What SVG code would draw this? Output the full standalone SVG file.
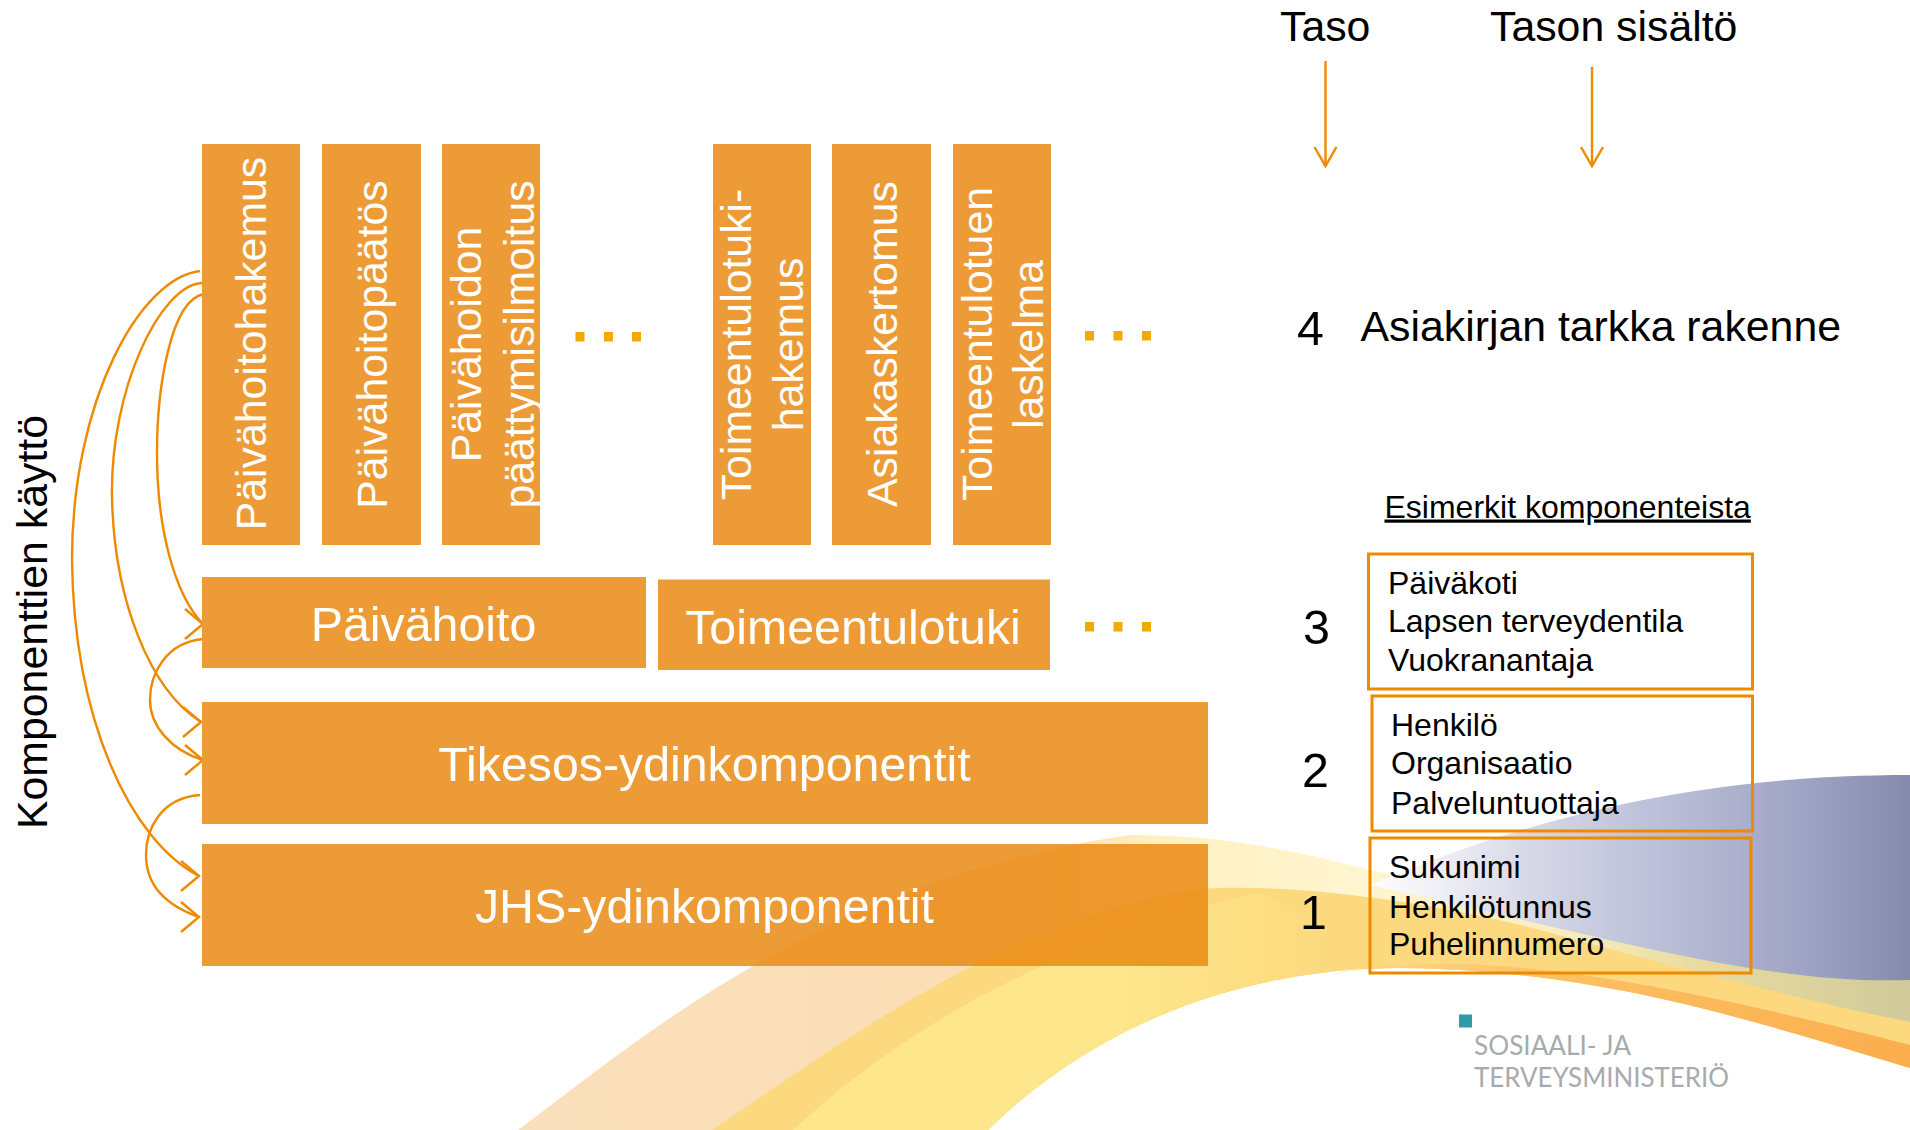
<svg xmlns="http://www.w3.org/2000/svg" width="1910" height="1130" viewBox="0 0 1910 1130">
<style>
text{font-family:"Liberation Sans",Arial,sans-serif}
.box{fill:#ed9b36}
.w{fill:#fff}
.k{fill:#000}
.s43{font-size:42.8px}
.s48{font-size:48.3px}
.s32{font-size:32px}
.m{text-anchor:middle}
.dot{fill:#f0aa00}
.frame{fill:none;stroke:#ee8a00;stroke-width:3}
.con{fill:none;stroke:#ee8a00;stroke-width:2.4}
.logo{fill:#a7abad;font-family:Lato,"Liberation Sans",sans-serif;font-size:26px}
</style>
<defs>
<marker id="hr" markerUnits="userSpaceOnUse" markerWidth="24" markerHeight="34" refX="20" refY="17" orient="0"><path d="M2,2 L20,17 L2,32" fill="none" stroke="#ee8a00" stroke-width="2.4"/></marker>
<marker id="hd" markerUnits="userSpaceOnUse" markerWidth="26" markerHeight="24" refX="13" refY="21" orient="0"><path d="M2,2 L13,21 L24,2" fill="none" stroke="#ee8a00" stroke-width="2.4"/></marker>
<linearGradient id="gA" gradientUnits="userSpaceOnUse" x1="518" y1="0" x2="1910" y2="0"><stop offset="0" stop-color="#fadfbc"/><stop offset=".38" stop-color="#fbdeb4"/><stop offset=".46" stop-color="#fff0c0"/><stop offset=".6" stop-color="#fff5cf"/><stop offset=".75" stop-color="#f8edc0"/><stop offset=".85" stop-color="#e8dba0"/><stop offset="1" stop-color="#d0ca9a"/></linearGradient>
<linearGradient id="gC" gradientUnits="userSpaceOnUse" x1="1120" y1="0" x2="1330" y2="0"><stop offset="0" stop-color="#fde68b"/><stop offset="1" stop-color="#fcd97e"/></linearGradient>
<linearGradient id="gO" gradientUnits="userSpaceOnUse" x1="1330" y1="0" x2="1910" y2="0"><stop offset="0" stop-color="#fdd98a"/><stop offset=".4" stop-color="#fcc063"/><stop offset="1" stop-color="#fbae4e"/></linearGradient>
<linearGradient id="gB" gradientUnits="userSpaceOnUse" x1="1370" y1="0" x2="1910" y2="0"><stop offset="0" stop-color="#fff"/><stop offset=".1" stop-color="#f2f2f7"/><stop offset=".3" stop-color="#d6d8e7"/><stop offset=".5" stop-color="#bfc3da"/><stop offset=".8" stop-color="#a0a4c4"/><stop offset="1" stop-color="#868bae"/></linearGradient>
</defs>
<rect width="1910" height="1130" fill="#fff"/>
<g id="background">
<path d="M518,1130 C640,1040 820,880 1130,835 C1250,835 1330,860 1450,890 L1910,900 L1910,1068 C1750,1020 1600,970 1400,968 C1250,968 1100,1020 988,1130 Z" fill="url(#gA)"/>
<path d="M712,1130 C840,1045 1000,920 1200,889 C1300,882 1450,905 1551,933 C1650,960 1800,1000 1910,1022 L1910,1068 C1750,1020 1600,970 1400,968 C1250,968 1100,1020 988,1130 Z" fill="#fcd97e"/>
<path d="M793,1130 C880,1050 1020,950 1260,892 L1400,968 C1250,968 1100,1020 988,1130 Z" fill="url(#gC)"/>
<path d="M1330,975 C1450,950 1600,965 1910,1045 L1910,1068 C1750,1020 1600,970 1400,968 C1370,968 1350,970 1330,975 Z" fill="url(#gO)"/>
<path d="M1370,885 C1480,840 1650,775 1910,775 L1910,980 C1760,985 1600,935 1370,885 Z" fill="url(#gB)"/>
</g>
<g id="connectors">
<path class="con" marker-end="url(#hr)" d="M200,271 C140,278 72,400 72,560 C74,720 130,840 199,876"/>
<path class="con" marker-end="url(#hr)" d="M202,283 C160,285 110,390 112,497 C114,600 150,690 201,722"/>
<path class="con" marker-end="url(#hr)" d="M204,294 C170,300 157,390 157,453 C157,530 175,595 203,624"/>
<path class="con" marker-end="url(#hr)" d="M204,639 C165,642 150,675 150,700 C150,725 170,750 203,760"/>
<path class="con" marker-end="url(#hr)" d="M200,795 C160,798 146,830 146,855 C146,885 165,905 199,917"/>
<path class="con" marker-end="url(#hd)" d="M1325.5,61 L1325.5,166"/>
<path class="con" marker-end="url(#hd)" d="M1592,67 L1592,166"/>
</g>
<g id="n-paivahoitohakemus"><rect class="box" x="202" y="144" width="98" height="401"/><text class="w s43 m" transform="translate(266 343.5) rotate(-90)">Päivähoitohakemus</text></g>
<g id="n-paivahoitopaatos"><rect class="box" x="322" y="144" width="99" height="401"/><text class="w s43 m" transform="translate(386.500 344.5) rotate(-90)">Päivähoitopäätös</text></g>
<g id="n-paattymisilmoitus"><rect class="box" x="442" y="144" width="98" height="401"/><text class="w s43 m" transform="translate(481 344.5) rotate(-90)">Päivähoidon</text><text class="w s43 m" transform="translate(533.500 344.5) rotate(-90)">päättymisilmoitus</text></g>
<g id="n-toimeentulotukihakemus"><rect class="box" x="713" y="144" width="98" height="401"/><text class="w s43 m" transform="translate(751 344.5) rotate(-90)">Toimeentulotuki-</text><text class="w s43 m" transform="translate(803 344.5) rotate(-90)">hakemus</text></g>
<g id="n-asiakaskertomus"><rect class="box" x="832" y="144" width="99" height="401"/><text class="w s43 m" transform="translate(897 344) rotate(-90)">Asiakaskertomus</text></g>
<g id="n-laskelma"><rect class="box" x="953" y="144" width="98" height="401"/><text class="w s43 m" transform="translate(991.500 344) rotate(-90)">Toimeentulotuen</text><text class="w s43 m" transform="translate(1043 344.5) rotate(-90)">laskelma</text></g>
<g id="n-paivahoito"><rect class="box" x="202" y="577" width="444" height="91"/><text class="w s48 m" x="423.500" y="641">Päivähoito</text></g>
<g id="n-toimeentulotuki"><rect class="box" x="658" y="579.500" width="392" height="90.500"/><text class="w s48 m" x="853" y="643.500">Toimeentulotuki</text></g>
<g id="n-tikesos"><rect class="box" x="202" y="702" width="1006" height="122"/><text class="w s48 m" x="704.500" y="781">Tikesos-ydinkomponentit</text></g>
<g id="n-jhs"><rect x="202" y="844" width="1006" height="122" fill="#ea8913" fill-opacity=".85"/><text class="w s48 m" x="704.500" y="923">JHS-ydinkomponentit</text></g>
<g id="dots">
<rect class="dot" x="575.5" y="332" width="9" height="9.5"/><rect class="dot" x="604" y="332" width="9" height="9.5"/><rect class="dot" x="632" y="332" width="9" height="9.5"/>
<rect class="dot" x="1085" y="331" width="9" height="9.5"/><rect class="dot" x="1113.500" y="331" width="9" height="9.5"/><rect class="dot" x="1142" y="331" width="9" height="9.5"/>
<rect class="dot" x="1085" y="622" width="9" height="9.5"/><rect class="dot" x="1113.500" y="622" width="9" height="9.5"/><rect class="dot" x="1142" y="622" width="9" height="9.5"/>
</g>
<g id="n-komponenttien"><text class="k s43" transform="translate(47 829) rotate(-90)">Komponenttien käyttö</text></g>
<g id="n-taso"><text class="k s43" x="1280" y="41">Taso</text></g>
<g id="n-tason-sisalto"><text class="k s43" x="1490" y="41">Tason sisältö</text></g>
<g id="n-taso4"><text class="k s48" x="1297" y="345">4</text><text class="k s43" x="1360.500" y="341">Asiakirjan tarkka rakenne</text></g>
<g id="n-esimerkit"><text class="k s32" x="1384.500" y="517.500" text-decoration="underline">Esimerkit komponenteista</text></g>
<g id="n-taso3"><text class="k s48" x="1303" y="644">3</text><rect class="frame" x="1368.500" y="554" width="384" height="135"/><text class="k s32" x="1388" y="594">Päiväkoti</text><text class="k s32" x="1388" y="632">Lapsen terveydentila</text><text class="k s32" x="1388" y="671">Vuokranantaja</text></g>
<g id="n-taso2"><text class="k s48" x="1302" y="787">2</text><rect class="frame" x="1372" y="696" width="380.500" height="135"/><text class="k s32" x="1391" y="735.500">Henkilö</text><text class="k s32" x="1391" y="774">Organisaatio</text><text class="k s32" x="1391" y="813.500">Palveluntuottaja</text></g>
<g id="n-taso1"><text class="k s48" x="1300" y="929">1</text><rect class="frame" x="1370" y="838" width="381" height="135"/><text class="k s32" x="1389" y="878">Sukunimi</text><text class="k s32" x="1389" y="917.500">Henkilötunnus</text><text class="k s32" x="1389" y="955">Puhelinnumero</text></g>
<g id="logo"><rect x="1459" y="1014.500" width="13" height="13" fill="#2e9ba6"/><text class="logo" x="1474" y="1055" textLength="157" lengthAdjust="spacingAndGlyphs">SOSIAALI- JA</text><text class="logo" x="1474" y="1087" textLength="255" lengthAdjust="spacingAndGlyphs">TERVEYSMINISTERIÖ</text></g>
</svg>
